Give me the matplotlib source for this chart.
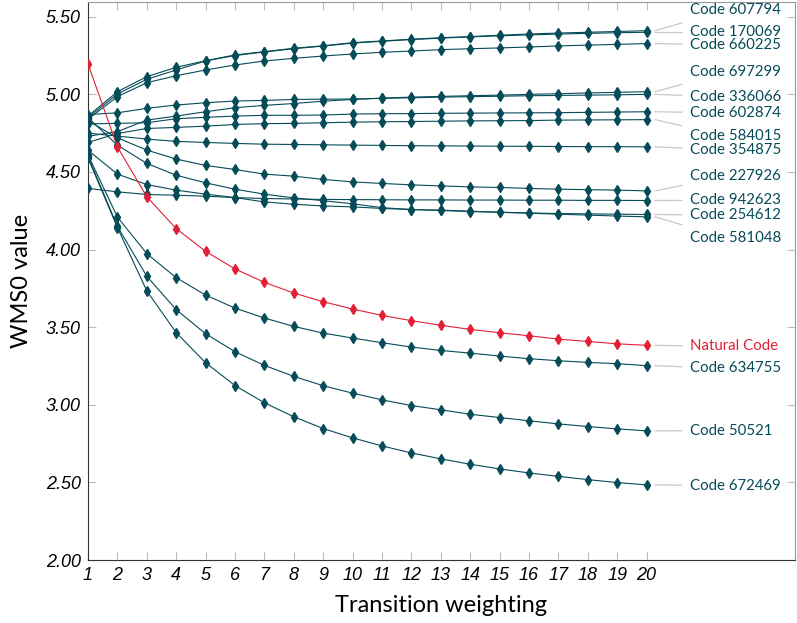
import numpy as np
import matplotlib
matplotlib.use('Agg')
import matplotlib.pyplot as plt

weights = list(range(1, 21))

codes = ['Code 607794', 'Code 170069', 'Code 660225', 'Code 697299', 'Code 336066',
         'Code 602874', 'Code 584015', 'Code 354875', 'Code 227926', 'Code 942623',
         'Code 254612', 'Code 581048', 'Natural Code', 'Code 634755', 'Code 50521',
         'Code 672469']

c607794 = [4.86, 5.017, 5.114, 5.174, 5.217, 5.254, 5.275, 5.297, 5.313, 5.333,
           5.344, 5.355, 5.365, 5.372, 5.381, 5.389, 5.395, 5.400, 5.405, 5.410]
c170069 = [4.85, 5.002, 5.097, 5.157, 5.215, 5.250, 5.273, 5.294, 5.311, 5.330,
           5.342, 5.353, 5.362, 5.370, 5.377, 5.383, 5.388, 5.393, 5.397, 5.400]
c660225 = [4.84, 4.985, 5.075, 5.120, 5.157, 5.189, 5.215, 5.232, 5.247, 5.260,
           5.271, 5.279, 5.288, 5.294, 5.299, 5.305, 5.312, 5.317, 5.322, 5.327]
c697299 = [4.73, 4.760, 4.834, 4.860, 4.888, 4.914, 4.929, 4.941, 4.956, 4.967,
           4.976, 4.982, 4.987, 4.991, 4.995, 5.000, 5.004, 5.009, 5.013, 5.017]
c336066 = [4.87, 4.881, 4.910, 4.931, 4.946, 4.957, 4.961, 4.967, 4.969, 4.970,
           4.974, 4.978, 4.982, 4.985, 4.988, 4.991, 4.993, 4.995, 4.997, 5.000]
c602874 = [4.81, 4.813, 4.817, 4.843, 4.852, 4.860, 4.865, 4.865, 4.867, 4.873,
           4.875, 4.876, 4.878, 4.879, 4.880, 4.881, 4.882, 4.884, 4.886, 4.888]
c584015 = [4.69, 4.748, 4.780, 4.787, 4.795, 4.806, 4.811, 4.813, 4.817, 4.821,
           4.823, 4.825, 4.827, 4.829, 4.830, 4.831, 4.834, 4.835, 4.836, 4.837]
c354875 = [4.75, 4.731, 4.712, 4.697, 4.690, 4.684, 4.679, 4.677, 4.675, 4.673,
           4.671, 4.669, 4.668, 4.667, 4.666, 4.665, 4.664, 4.663, 4.663, 4.662]
c227926 = [4.83, 4.720, 4.641, 4.583, 4.542, 4.516, 4.486, 4.473, 4.452, 4.436,
           4.426, 4.417, 4.410, 4.404, 4.400, 4.394, 4.389, 4.386, 4.383, 4.378]
c942623 = [4.394, 4.372, 4.355, 4.350, 4.344, 4.335, 4.329, 4.326, 4.323, 4.322,
           4.321, 4.320, 4.320, 4.319, 4.319, 4.318, 4.318, 4.317, 4.317, 4.316]
c254612 = [4.64, 4.486, 4.419, 4.383, 4.357, 4.335, 4.307, 4.292, 4.281, 4.275,
           4.265, 4.258, 4.254, 4.247, 4.241, 4.236, 4.232, 4.230, 4.228, 4.226]
c581048 = [4.85, 4.673, 4.555, 4.479, 4.430, 4.389, 4.357, 4.333, 4.315, 4.295,
           4.270, 4.258, 4.252, 4.245, 4.240, 4.234, 4.228, 4.222, 4.216, 4.211]
natural = [5.196, 4.662, 4.340, 4.135, 3.989, 3.875, 3.789, 3.720, 3.664, 3.617,
           3.576, 3.542, 3.512, 3.486, 3.464, 3.445, 3.423, 3.408, 3.393, 3.383]
c634755 = [4.61, 4.210, 3.974, 3.819, 3.707, 3.623, 3.559, 3.505, 3.462, 3.430,
           3.400, 3.372, 3.350, 3.333, 3.314, 3.297, 3.284, 3.273, 3.265, 3.252]
c50521 = [4.60, 4.150, 3.828, 3.613, 3.458, 3.342, 3.254, 3.183, 3.123, 3.075,
          3.032, 2.995, 2.968, 2.939, 2.918, 2.897, 2.877, 2.860, 2.845, 2.832]
c672469 = [4.59, 4.142, 3.734, 3.465, 3.271, 3.124, 3.013, 2.923, 2.847, 2.787,
           2.735, 2.690, 2.652, 2.617, 2.587, 2.561, 2.539, 2.518, 2.499, 2.484]

series = [c607794, c170069, c660225, c697299, c336066, c602874, c584015, c354875,
          c227926, c942623, c254612, c581048, natural, c634755, c50521, c672469]

# where the right-hand labels sit (spread out so they don't overlap)
label_y = [5.545, 5.40, 5.318, 5.144, 4.983, 4.88, 4.73, 4.642, 4.473, 4.318,
           4.221, 4.073, 3.376, 3.234, 2.834, 2.479]

teal = '#064b58'
red = '#e21f36'

fig = plt.figure(figsize=(7.97, 6.23), dpi=100)
ax = fig.add_axes([0.1104, 0.1011, 0.8871, 0.8957])

for name, vals, ly in zip(codes, series, label_y):
    col = red if name == 'Natural Code' else teal
    ax.plot(weights, vals, color=col, lw=0.8, marker='d', ms=5.2, mec=col, mfc=col, zorder=3)
    yend = vals[-1]
    ax.plot([20.29, 21.2], [yend, yend + 0.37 * (ly - yend)], color='#c8c8c8',
            lw=0.9, clip_on=False, zorder=2)
    ax.text(21.48, ly, name, color=col, fontsize=10.8, family='Lato', va='center', ha='left')

ax.set_xlim(1, 25.05)
ax.set_ylim(2.0, 5.595)
ax.set_xticks(weights)
ax.set_yticks(np.arange(2.0, 5.51, 0.5))
ax.set_yticklabels(['%.2f' % v for v in np.arange(2.0, 5.51, 0.5)])
ax.tick_params(direction='in', length=6, color='#bbbbbb', top=True, right=True,
               labelsize=13, pad=5)
for lab in ax.get_xticklabels() + ax.get_yticklabels():
    lab.set_fontstyle('italic')
    lab.set_family('Liberation Sans')

ax.spines['left'].set_color('#333333')
ax.spines['bottom'].set_color('#333333')
ax.spines['top'].set_color('#999999')
ax.spines['right'].set_color('#999999')

ax.set_xlabel('Transition weighting', fontsize=17, family='Lato', labelpad=8)
ax.set_ylabel('WMS0 value', fontsize=17, family='Lato', labelpad=10)

fig.savefig('out.png', dpi=100)
